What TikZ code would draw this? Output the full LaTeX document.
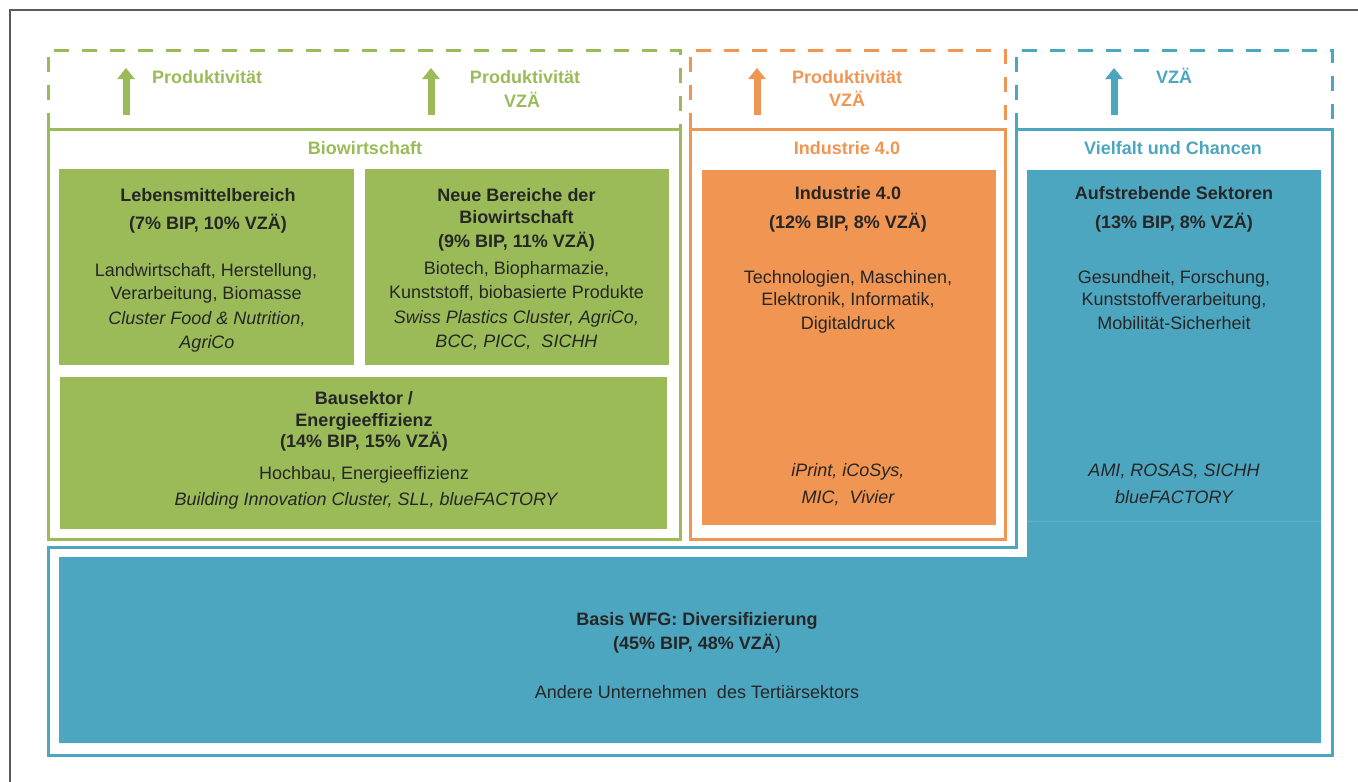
\documentclass[tikz,border=0pt]{standalone}
\usepackage{fontspec}
\setmainfont{Liberation Sans}
\usetikzlibrary{arrows.meta}
\definecolor{gr}{RGB}{155,187,89}
\definecolor{orr}{RGB}{240,149,82}
\definecolor{bl}{RGB}{77,166,192}
\definecolor{dk}{RGB}{38,38,38}
\definecolor{frm}{RGB}{90,90,90}
\begin{document}
\begin{tikzpicture}[x=1pt,y=-1pt,
  every node/.style={inner sep=0pt,outer sep=0pt},
  t/.style={anchor=base,text=dk,font=\fontsize{18}{22}\selectfont},
  tb/.style={anchor=base,text=dk,font=\fontsize{18}{22}\selectfont\bfseries},
  ti/.style={anchor=base,text=dk,font=\fontsize{18}{22}\selectfont\itshape},
  hd/.style={anchor=base,font=\fontsize{18}{22}\selectfont\bfseries},
  dsh/.style={line width=3pt,dash pattern=on 15pt off 13pt},
  sol/.style={line width=3pt},
  uparrow/.style={line width=7pt,-{Triangle[width=17pt,length=11pt]}},
  fillbox/.style={draw=none,anchor=north west}
]
\useasboundingbox (0,0) rectangle (1358,782);
% outer frame
\draw[frm,line width=1.5pt] (10,782) -- (10,10) -- (1358,10);

% blue L-shaped fill
\fill[bl] (1027,170) -- (1321,170) -- (1321,743) -- (59,743) -- (59,557) -- (1027,557) -- cycle;
\draw[bl!88!white,line width=0.6pt] (1027,521) -- (1321,521);

% green boxes
\node[fillbox,fill=gr,minimum width=295pt,minimum height=196pt] (leb) at (59,169) {};
\node[fillbox,fill=gr,minimum width=304pt,minimum height=196pt] (neu) at (365,169) {};
\node[fillbox,fill=gr,minimum width=607pt,minimum height=152pt] (bau) at (60,377) {};
% orange box
\node[fillbox,fill=orr,minimum width=294pt,minimum height=355pt] (ind) at (702,170) {};

% outlines
\draw[gr,dsh] (48,128) -- (48,50) -- (680,50) -- (680,128);
\draw[gr,sol] (48,129) rectangle (680,539);
\draw[orr,dsh] (690,128) -- (690,50) -- (1005,50) -- (1005,128);
\draw[orr,sol] (690,129) rectangle (1005,539);
\draw[bl,dsh] (1016,128) -- (1016,50) -- (1332,50) -- (1332,128);
\draw[bl,sol] (1016,129) -- (1332,129) -- (1332,755) -- (48,755) -- (48,547) -- (1016,547) -- cycle;

% header arrows and labels
\coordinate (a1s) at (126,115); \coordinate (a1e) at (126,68);
\coordinate (a2s) at (431,115); \coordinate (a2e) at (431,68);
\coordinate (a3s) at (757,115); \coordinate (a3e) at (757,68);
\coordinate (a4s) at (1114,115); \coordinate (a4e) at (1114,68);
\draw[gr,uparrow] (a1s) -- (a1e);
\draw[gr,uparrow] (a2s) -- (a2e);
\draw[orr,uparrow] (a3s) -- (a3e);
\draw[bl,uparrow] (a4s) -- (a4e);
\node[hd,gr,anchor=base west] (h1) at (152,83.5) {Produktivität};
\node[hd,gr] (h2a) at (525,83.5) {Produktivität};
\node[hd,gr] (h2b) at (522,107.5) {VZÄ};
\node[hd,orr] (h3a) at (847,83.5) {Produktivität};
\node[hd,orr] (h3b) at (847,106.5) {VZÄ};
\node[hd,bl,anchor=base west] (h4) at (1156,83.5) {VZÄ};

% section titles
\node[hd,gr] (s1) at (365,154.5) {Biowirtschaft};
\node[hd,orr] (s2) at (847,154.5) {Industrie 4.0};
\node[hd,bl] (s3) at (1173,154.5) {Vielfalt und Chancen};

% Lebensmittelbereich
\node[tb] (l1) at (208,201.5) {Lebensmittelbereich};
\node[tb] (l2) at (208,229.5) {(7\% BIP, 10\% VZÄ)};
\node[t] (l3) at (206,276.5) {Landwirtschaft, Herstellung,};
\node[t] (l4) at (206,299.5) {Verarbeitung, Biomasse};
\node[ti] (l5) at (207,324.5) {Cluster Food \& Nutrition,};
\node[ti] (l6) at (207,348.5) {AgriCo};

% Neue Bereiche
\node[tb] (n1) at (516.5,201.5) {Neue Bereiche der};
\node[tb] (n2) at (516.5,223.5) {Biowirtschaft};
\node[tb] (n3) at (516.5,247.5) {(9\% BIP, 11\% VZÄ)};
\node[t] (n4) at (516.5,274.5) {Biotech, Biopharmazie,};
\node[t] (n5) at (516.5,298.5) {Kunststoff, biobasierte Produkte};
\node[ti] (n6) at (516.5,323.5) {Swiss Plastics Cluster, AgriCo,};
\node[ti] (n7) at (516.5,347.5) {BCC, PICC,~ SICHH};

% Bausektor
\node[tb] (b1) at (364,404.5) {Bausektor /};
\node[tb] (b2) at (364,426.5) {Energieeffizienz};
\node[tb] (b3) at (364,447.5) {(14\% BIP, 15\% VZÄ)};
\node[t] (b4) at (364,479.5) {Hochbau, Energieeffizienz};
\node[ti] (b5) at (366,505.5) {Building Innovation Cluster, SLL, blueFACTORY};

% Industrie 4.0
\node[tb] (i1) at (848,199.5) {Industrie 4.0};
\node[tb] (i2) at (848,228.5) {(12\% BIP, 8\% VZÄ)};
\node[t] (i3) at (848,283.5) {Technologien, Maschinen,};
\node[t] (i4) at (848,305) {Elektronik, Informatik,};
\node[t] (i5) at (848,329.5) {Digitaldruck};
\node[ti] (i6) at (848,476.5) {iPrint, iCoSys,};
\node[ti] (i7) at (848,503.5) {MIC,~ Vivier};

% Aufstrebende Sektoren
\node[tb] (f1) at (1174,199.5) {Aufstrebende Sektoren};
\node[tb] (f2) at (1174,228.5) {(13\% BIP, 8\% VZÄ)};
\node[t] (f3) at (1174,283.5) {Gesundheit, Forschung,};
\node[t] (f4) at (1174,305) {Kunststoffverarbeitung,};
\node[t] (f5) at (1174,329.5) {Mobilität-Sicherheit};
\node[ti] (f6) at (1174,476.5) {AMI, ROSAS, SICHH};
\node[ti] (f7) at (1174,503.5) {blueFACTORY};

% Basis
\node[tb] (w1) at (697,625.5) {Basis WFG: Diversifizierung};
\node[tb] (w2) at (697,649.5) {(45\% BIP, 48\% VZÄ{\mdseries)}};
\node[t] (w3) at (697,698.5) {Andere Unternehmen~ des Tertiärsektors};
\end{tikzpicture}
\end{document}
